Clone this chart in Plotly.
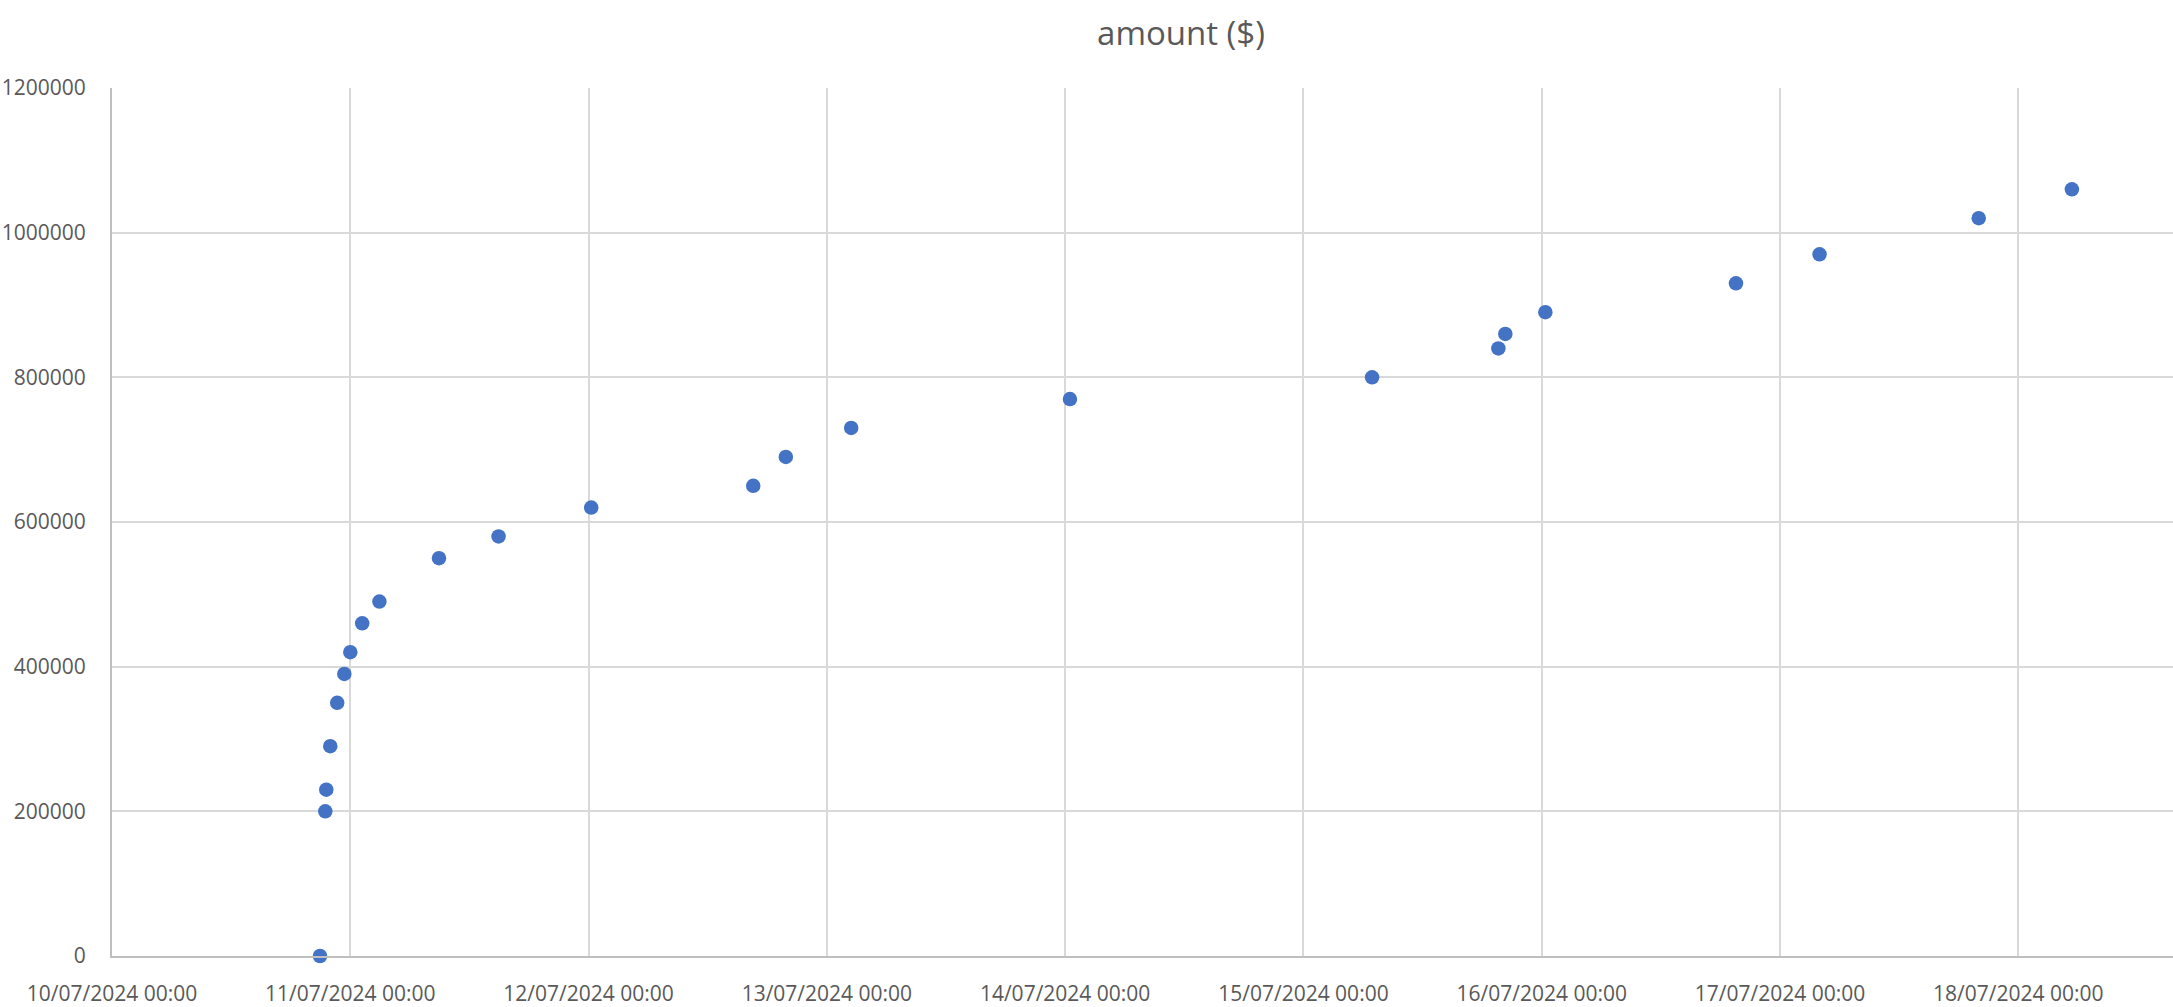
import plotly.graph_objects as go

# Data
timestamps = [
    "2024-07-10 20:57", "2024-07-10 21:29", "2024-07-10 21:35", "2024-07-10 21:59",
    "2024-07-10 22:41", "2024-07-10 23:24", "2024-07-11 00:00", "2024-07-11 01:12",
    "2024-07-11 02:56", "2024-07-11 08:56", "2024-07-11 14:56", "2024-07-12 00:16",
    "2024-07-12 16:35", "2024-07-12 19:52", "2024-07-13 02:27", "2024-07-14 00:29",
    "2024-07-15 06:55", "2024-07-15 19:38", "2024-07-15 20:20", "2024-07-16 00:22",
    "2024-07-16 19:34", "2024-07-17 03:59", "2024-07-17 20:01", "2024-07-18 05:24",
]
amounts = [
    0, 200000, 230000, 290000,
    350000, 390000, 420000, 460000,
    490000, 550000, 580000, 620000,
    650000, 690000, 730000, 770000,
    800000, 840000, 860000, 890000,
    930000, 970000, 1020000, 1060000,
]
title_text = "amount ($)"
y_ticks = [0, 200000, 400000, 600000, 800000, 1000000, 1200000]

FONT = "Open Sans"
TXT = "#595959"
W, H = 2173, 1007
L, R, T, B = 112, 0, 88, 49

fig = go.Figure(
    go.Scatter(
        x=timestamps,
        y=amounts,
        mode="markers",
        marker=dict(color="#4472C4", size=14.5, line=dict(width=0)),
        showlegend=False,
        cliponaxis=False,
        hoverinfo="x+y",
    )
)

fig.update_layout(
    width=W,
    height=H,
    autosize=False,
    margin=dict(l=L, r=R, t=T, b=B, pad=0),
    paper_bgcolor="white",
    plot_bgcolor="white",
    font=dict(family=FONT, color=TXT, size=21),
    title=dict(
        text=title_text,
        x=1181 / W,
        xanchor="center",
        xref="container",
        y=1 - 33 / H,
        yanchor="middle",
        yref="container",
        font=dict(family=FONT, size=33, color=TXT),
    ),
)

fig.update_xaxes(
    type="date",
    range=["2024-07-10 00:00", "2024-07-18 15:35"],
    tick0="2024-07-10 00:00",
    dtick=86400000,
    tickformat="%d/%m/%Y %H:%M",
    showgrid=True,
    gridcolor="#D9D9D9",
    gridwidth=2,
    showline=True,
    linecolor="#BFBFBF",
    linewidth=2,
    zeroline=False,
    ticks="",
    ticklabelstandoff=18,
    tickfont=dict(family=FONT, size=21, color=TXT),
)

fig.update_yaxes(
    range=[0, 1200000],
    tickmode="array",
    tickvals=y_ticks,
    ticktext=[str(v) for v in y_ticks],
    showgrid=True,
    gridcolor="#D9D9D9",
    gridwidth=2,
    showline=True,
    linecolor="#BFBFBF",
    linewidth=2,
    zeroline=False,
    ticks="",
    ticklabelstandoff=20,
    tickfont=dict(family=FONT, size=21, color=TXT),
)

fig.write_html(
    "out.html",
    config={"displayModeBar": False},
    post_script="document.body.style.margin='0';",
)
